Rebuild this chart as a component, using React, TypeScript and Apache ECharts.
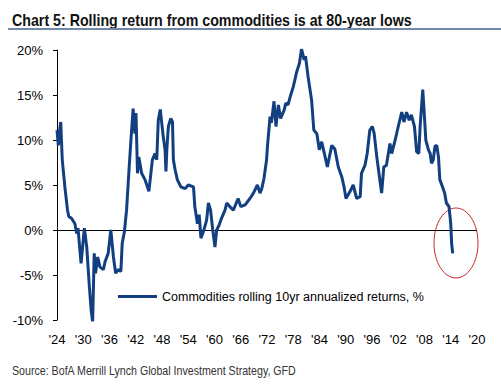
import React, { useEffect, useRef } from "react";
import * as echarts from "echarts";

const TITLE = "Chart 5: Rolling return from commodities is at 80-year lows";
const SOURCE = "Source: BofA Merrill Lynch Global Investment Strategy, GFD";
const SERIES_NAME = "Commodities rolling 10yr annualized returns, %";

const START_YEAR = 1924;
const END_YEAR = 2020;
const TICK_STEP = 6;
const Y_MIN = -10;
const Y_MAX = 20;
const Y_STEP = 5;

const years = [
  1924.0, 1924.3, 1924.6, 1924.85, 1925.2, 1925.8, 1926.4, 1926.7, 1927.3, 1928.1,
  1928.5, 1928.8, 1929.5, 1930.25, 1930.8, 1931.4, 1931.8, 1932.15, 1932.5, 1932.8,
  1933.3, 1933.8, 1934.6, 1935.0, 1935.7, 1936.3, 1936.9, 1937.4, 1938.0, 1938.6,
  1938.9, 1939.4, 1939.9, 1940.5, 1940.9, 1941.4, 1941.8, 1942.05, 1942.4, 1942.7,
  1943.35, 1944.1, 1945.0, 1945.8, 1946.4, 1946.8, 1947.15, 1947.6, 1948.3, 1948.7,
  1948.9, 1949.1, 1949.45, 1950.0, 1950.4, 1950.6, 1951.0, 1951.5, 1952.3, 1953.3,
  1954.0, 1955.2, 1955.5, 1956.1, 1956.5, 1956.9, 1957.45, 1958.2, 1958.6, 1959.1,
  1959.6, 1960.1, 1960.5, 1961.1, 1961.6, 1962.4, 1962.8, 1963.5, 1964.3, 1965.4,
  1966.0, 1967.0, 1968.1, 1968.9, 1969.8, 1970.4, 1970.8, 1971.3, 1971.9, 1972.1,
  1972.7, 1973.0, 1973.6, 1974.05, 1974.6, 1975.1, 1975.9, 1976.3, 1976.8, 1977.3,
  1978.0, 1978.8, 1979.4, 1979.9, 1980.5, 1980.8, 1981.4, 1982.2, 1982.7, 1983.4,
  1983.95, 1984.5, 1985.3, 1985.8, 1986.8, 1987.5, 1988.3, 1989.1, 1989.6, 1990.05,
  1991.0, 1991.7, 1992.5, 1993.3, 1993.6, 1994.4, 1994.9, 1995.5, 1996.1, 1996.5,
  1997.1, 1997.7, 1998.2, 1998.7, 1999.3, 2000.1, 2000.5, 2001.3, 2002.0, 2002.8,
  2003.3, 2003.9, 2004.5, 2005.0, 2005.7, 2006.2, 2006.7, 2007.0, 2007.6, 2007.9,
  2008.3, 2008.9, 2009.3, 2009.6, 2010.0, 2010.4, 2010.8, 2011.2, 2011.5, 2012.1,
  2012.6, 2013.0, 2013.6, 2014.0, 2014.2, 2014.45,
];

const returns = [
  11.1, 9.4, 11.0, 12.0, 7.8, 4.8, 2.2, 1.5, 1.3, 0.7,
  -0.4, 0.2, -3.7, 0.2, -1.9, -6.3, -8.9, -10.2, -2.6, -4.8,
  -3.0, -4.1, -4.4, -3.5, -2.6, 0.0, -3.0, -4.8, -4.4, -4.6,
  -1.5, -0.2, 2.2, 7.0, 10.0, 13.5, 10.7, 13.0, 6.3, 8.1,
  6.3, 5.6, 4.3, 7.8, 8.5, 7.8, 12.2, 13.4, 10.3, 8.9,
  6.5, 8.9, 11.5, 12.4, 12.0, 7.8, 6.7, 5.6, 4.8, 4.6,
  5.0, 4.8, 2.6, 0.7, 1.7, -0.9, -0.2, 1.1, 3.0, 2.2,
  0.0, -1.9, 0.0, 0.6, 1.3, 2.2, 3.0, 2.6, 2.2, 3.5,
  2.6, 2.8, 3.5, 4.1, 5.0, 4.1, 4.6, 5.7, 7.8, 9.3,
  12.6, 11.9, 14.3, 11.5, 13.9, 12.4, 13.3, 14.1, 13.9, 14.8,
  15.9, 17.6, 18.5, 20.1, 18.9, 19.3, 17.0, 14.4, 11.1, 10.7,
  8.9, 9.8, 8.1, 7.0, 9.4, 9.0, 7.0, 5.9, 4.8, 3.5,
  4.3, 5.0, 3.5, 3.7, 6.3, 7.2, 8.5, 11.1, 11.5, 10.7,
  8.1, 5.9, 4.1, 7.0, 7.2, 9.6, 8.5, 10.0, 11.5, 13.1,
  12.0, 13.1, 12.2, 12.8, 11.5, 8.7, 8.5, 11.5, 15.6, 13.3,
  10.0, 8.9, 8.5, 7.4, 7.8, 9.3, 9.4, 8.1, 5.6, 4.8,
  4.1, 3.0, 2.6, 0.7, -1.5, -2.6,
];

const LINE_COLOR = "#123f80";
const AXIS_FONT = "'Liberation Sans', Arial, sans-serif";
const TITLE_FONT = `bold 16px 'Liberation Sans', Arial, sans-serif`;
const SOURCE_FONT = `12px 'Liberation Sans', Arial, sans-serif`;

function fitScale(text: string, font: string, target: number): number {
  const c = document.createElement("canvas");
  const ctx = c.getContext("2d");
  if (!ctx) return 1;
  ctx.font = font;
  const w = ctx.measureText(text).width;
  return w > 0 ? target / w : 1;
}

export default function App() {
  const ref = useRef<HTMLDivElement>(null);

  useEffect(() => {
    if (!ref.current) return;
    const chart = echarts.init(ref.current, undefined, { renderer: "svg" });
    const data = years.map((y, i) => [y - START_YEAR, returns[i]]);
    const titleScale = fitScale(TITLE, TITLE_FONT, 400);
    const sourceScale = fitScale(SOURCE, SOURCE_FONT, 285);

    chart.setOption({
      animation: false,
      backgroundColor: "#ffffff",
      grid: { left: 57, right: 24, top: 50, bottom: 67, containLabel: false },
      xAxis: {
        type: "value",
        min: 0,
        max: END_YEAR - START_YEAR,
        interval: TICK_STEP,
        axisLine: { show: false },
        axisTick: { show: false },
        splitLine: { show: false },
        axisLabel: {
          margin: 13,
          color: "#000",
          fontSize: 13,
          fontFamily: AXIS_FONT,
          formatter: (v: number) => "'" + String((START_YEAR + v) % 100).padStart(2, "0"),
        },
      },
      yAxis: {
        type: "value",
        min: Y_MIN,
        max: Y_MAX,
        interval: Y_STEP,
        axisLine: { show: true, lineStyle: { color: "#000", width: 1 } },
        axisTick: { show: true, length: 4, lineStyle: { color: "#000" } },
        splitLine: { show: false },
        axisLabel: {
          margin: 14,
          color: "#000",
          fontSize: 13,
          fontFamily: AXIS_FONT,
          formatter: "{value}%",
        },
      },
      legend: {
        left: 118,
        top: 290,
        padding: 0,
        icon: "rect",
        itemWidth: 39,
        itemHeight: 3,
        itemGap: 10,
        textStyle: { color: "#000", fontSize: 12.5, fontFamily: AXIS_FONT },
        data: [{ name: SERIES_NAME, itemStyle: { color: LINE_COLOR } }],
      },
      series: [
        {
          name: SERIES_NAME,
          type: "line",
          data,
          showSymbol: false,
          symbol: "none",
          lineStyle: { color: LINE_COLOR, width: 3 },
          itemStyle: { color: LINE_COLOR },
          z: 3,
          markLine: {
            silent: true,
            symbol: "none",
            label: { show: false },
            lineStyle: { color: "#000", width: 1, type: "solid" },
            data: [{ yAxis: 0 }],
            z: 2,
          },
        },
      ],
      graphic: [
        {
          type: "text",
          x: 12,
          y: 12,
          scaleX: titleScale,
          style: {
            text: TITLE,
            fill: "#111",
            font: TITLE_FONT,
          },
        },
        {
          type: "line",
          shape: { x1: 8, y1: 29, x2: 501, y2: 29 },
          style: { stroke: "#7388a8", lineWidth: 2 },
        },
        {
          type: "ellipse",
          shape: { cx: 456, cy: 243, rx: 22, ry: 35 },
          style: { fill: "none", stroke: "#c8252c", lineWidth: 1 },
        },
        {
          type: "text",
          x: 12,
          y: 365,
          scaleX: sourceScale,
          style: {
            text: SOURCE,
            fill: "#333",
            font: SOURCE_FONT,
          },
        },
      ],
    });
    return () => chart.dispose();
  }, []);

  return (
    <div
      ref={ref}
      style={{ position: "fixed", left: 0, top: 0, width: 501, height: 387, background: "#fff" }}
    />
  );
}
